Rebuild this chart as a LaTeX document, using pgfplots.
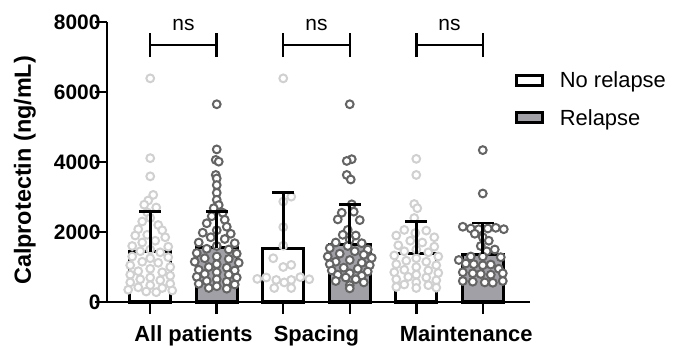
\documentclass[border=0pt]{standalone}
\usepackage{pgfplots}
\pgfplotsset{compat=1.18}
\usepackage{pgfplotstable}
\usepackage{fontspec}
\setmainfont{Liberation Sans}
\definecolor{nrpt}{RGB}{208,208,208}
\definecolor{rpt}{RGB}{100,100,100}
\definecolor{rbar}{RGB}{160,160,166}

% scatter points: g = bar position, o = horizontal jitter (px), y = value
\pgfplotstableread{
g o y
0 0 6390
0 0 4110
0 0 3590
0 3 3060
0 -2 2900
0 -6 2780
0 6 2700
0 -3 2560
0 0 2400
0 -8 2300
0 8 2200
0 -12 2080
0 12 2050
0 -3 1920
0 -15 1900
0 15 1850
0 5 1750
0 -8 1700
0 -18 1600
0 18 1580
0 0 1500
0 -10 1450
0 10 1420
0 -18 1300
0 18 1280
0 0 1250
0 -8 1150
0 8 1120
0 -20 1050
0 20 1000
0 0 950
0 -12 880
0 12 850
0 -20 780
0 20 750
0 0 700
0 -10 650
0 10 620
0 -20 560
0 20 520
0 0 480
0 -12 420
0 12 400
0 -22 350
0 22 330
0 -4 300
0 6 280
2 0 6390
2 8 3010
2 0 2870
2 0 2140
2 0 1610
2 -10 1250
2 8 1060
2 0 1000
2 -17 700
2 -7 630
2 1 560
2 8 630
2 17 710
2 -26 660
2 26 650
2 -9 400
2 8 400
4 0 4090
4 0 3630
4 -2 2800
4 1 2680
4 -2 2400
4 -12 2060
4 -1 1970
4 10 2040
4 -20 1900
4 18 1850
4 -6 1750
4 6 1700
4 -18 1620
4 18 1580
4 0 1500
4 -12 1450
4 12 1420
4 -22 1330
4 22 1300
4 0 1250
4 -10 1180
4 10 1150
4 -20 1080
4 20 1050
4 0 1000
4 -12 920
4 12 900
4 -22 850
4 22 830
4 0 780
4 -8 720
4 10 700
4 -20 650
4 20 620
4 0 560
4 -12 500
4 12 480
4 -20 430
4 20 410
4 0 400
}\nrpts

\pgfplotstableread{
g o y
1 0 5650
1 0 4360
1 -1 4060
1 2 4010
1 -1 3630
1 0 3530
1 0 3340
1 0 3120
1 0 2920
1 2 2770
1 -3 2680
1 6 2550
1 -5 2450
1 8 2350
1 -10 2250
1 10 2150
1 0 2050
1 -14 1980
1 14 1950
1 -6 1850
1 8 1800
1 -18 1700
1 18 1680
1 0 1600
1 -10 1520
1 12 1500
1 -20 1400
1 20 1380
1 0 1300
1 -12 1250
1 12 1230
1 -22 1150
1 22 1120
1 0 1080
1 -8 1000
1 10 980
1 -18 920
1 18 900
1 0 850
1 -12 800
1 12 780
1 -20 720
1 20 700
1 0 650
1 -10 600
1 10 580
1 -18 520
1 18 500
1 0 450
1 -8 400
1 10 380
3 0 5650
3 2 4080
3 -3 4030
3 -3 3630
3 1 3500
3 2 2790
3 4 2580
3 -8 2550
3 -12 2360
3 10 2340
3 -2 2060
3 -7 1920
3 6 1900
3 0 1780
3 -14 1700
3 12 1680
3 -2 1600
3 -20 1540
3 18 1500
3 5 1450
3 -10 1380
3 14 1350
3 -22 1300
3 22 1260
3 0 1200
3 -14 1150
3 12 1120
3 -20 1080
3 20 1050
3 -6 980
3 8 950
3 -18 900
3 18 870
3 0 820
3 -12 780
3 12 750
3 -4 700
3 6 650
3 -14 600
3 14 560
3 0 480
3 0 390
5 0 4340
5 0 3100
5 -20 2150
5 -12 2100
5 -4 2080
5 5 2100
5 13 2120
5 21 2080
5 -8 1950
5 0 1850
5 6 1750
5 -2 1600
5 12 1500
5 4 1450
5 -12 1300
5 0 1300
5 18 1280
5 -24 1200
5 -17 1100
5 -9 1080
5 0 1050
5 8 1070
5 16 950
5 -20 850
5 -10 820
5 -2 800
5 8 780
5 20 820
5 -20 600
5 -10 580
5 2 560
5 10 550
5 20 600
}\rpts

\begin{document}
\begin{tikzpicture}
\path[use as bounding box] (-107bp,-48bp) rectangle (568bp,302bp);
\begin{axis}[
  at={(0,0)}, anchor=south west,
  width=423bp, height=280bp, scale only axis,
  xmin=-0.65, xmax=5.71, ymin=0, ymax=8000,
  clip=false, clip marker paths=true,
  axis x line*=bottom, axis y line*=left,
  axis line style={line width=2.5bp, -},
  tick align=outside, major tick length=12bp,
  tick style={line width=2.5bp, black},
  xtick={0,1,2,3,4,5}, xticklabels={},
  extra x ticks={0.65,2.5,4.75},
  extra x tick labels={All patients,Spacing,Maintenance},
  extra x tick style={major tick length=0pt,
    tick label style={font=\fontsize{22}{26}\selectfont\bfseries, yshift=-20bp}},
  ytick={0,2000,4000,6000,8000},
  yticklabel style={font=\fontsize{21}{24}\selectfont\bfseries, xshift=9bp},
  /pgf/number format/assume math mode=true,
  /pgf/number format/1000 sep={},
  scaled y ticks=false,
  ylabel={Calprotectin (ng/mL)},
  every axis y label/.style={at={(axis description cs:-0.194,0.47)}, rotate=90, anchor=center,
     font=\fontsize{23.5}{28}\selectfont\bfseries},
  legend style={at={(axis description cs:0.965,0.83)}, anchor=north west,
     draw=none, fill=none, font=\fontsize{22}{26}\selectfont,
     row sep=16bp, inner sep=0pt},
  legend cell align=left,
  legend image code/.code={\draw[#1,line width=3bp] (0bp,-5bp) rectangle (26bp,5bp);
     \path[draw=none, fill=none] (0bp,0bp) -- (41bp,0bp);},
]
\addplot[ybar, bar shift=0pt, bar width=0.62, draw=black, line width=3bp, fill=white]
  coordinates {(0,1440) (2,1520) (4,1380)};
\addplot[ybar, bar shift=0pt, bar width=0.62, draw=black, line width=3bp, fill=rbar]
  coordinates {(1,1550) (3,1650) (5,1360)};
\legend{No relapse, Relapse}

\addplot[only marks, mark=*, mark size=3.9bp,
  mark options={fill=white, draw=nrpt, line width=2bp}]
  table[x expr=\thisrow{g}+\thisrow{o}/66.5, y=y] {\nrpts};
\addplot[only marks, mark=*, mark size=3.9bp,
  mark options={fill=white, draw=rpt, line width=2bp}]
  table[x expr=\thisrow{g}+\thisrow{o}/66.5, y=y] {\rpts};

% error bars (mean + SD): stems and caps
\pgfplotsset{errline/.style={black, line width=2.7bp, mark=none}}
\addplot[errline] coordinates {(0,1440) (0,2580)};
\addplot[errline] coordinates {(-0.165,2580) (0.165,2580)};
\addplot[errline] coordinates {(1,1550) (1,2590)};
\addplot[errline] coordinates {(0.835,2590) (1.165,2590)};
\addplot[errline] coordinates {(2,1520) (2,3120)};
\addplot[errline] coordinates {(1.835,3120) (2.165,3120)};
\addplot[errline] coordinates {(3,1650) (3,2790)};
\addplot[errline] coordinates {(2.835,2790) (3.165,2790)};
\addplot[errline] coordinates {(4,1380) (4,2300)};
\addplot[errline] coordinates {(3.835,2300) (4.165,2300)};
\addplot[errline] coordinates {(5,1360) (5,2260)};
\addplot[errline] coordinates {(4.835,2260) (5.165,2260)};

% significance brackets
\addplot[black, line width=2.5bp, mark=none] coordinates {(0,7343) (1,7343)};
\addplot[black, line width=2.5bp, mark=none] coordinates {(0,7000) (0,7686)};
\addplot[black, line width=2.5bp, mark=none] coordinates {(1,7000) (1,7686)};
\addplot[black, line width=2.5bp, mark=none] coordinates {(2,7343) (3,7343)};
\addplot[black, line width=2.5bp, mark=none] coordinates {(2,7000) (2,7686)};
\addplot[black, line width=2.5bp, mark=none] coordinates {(3,7000) (3,7686)};
\addplot[black, line width=2.5bp, mark=none] coordinates {(4,7343) (5,7343)};
\addplot[black, line width=2.5bp, mark=none] coordinates {(4,7000) (4,7686)};
\addplot[black, line width=2.5bp, mark=none] coordinates {(5,7000) (5,7686)};
\node[anchor=base, font=\fontsize{21}{24}\selectfont, inner sep=0pt] at (axis cs:0.5,7760) {ns};
\node[anchor=base, font=\fontsize{21}{24}\selectfont, inner sep=0pt] at (axis cs:2.5,7760) {ns};
\node[anchor=base, font=\fontsize{21}{24}\selectfont, inner sep=0pt] at (axis cs:4.5,7760) {ns};
\end{axis}
\end{tikzpicture}
\end{document}
